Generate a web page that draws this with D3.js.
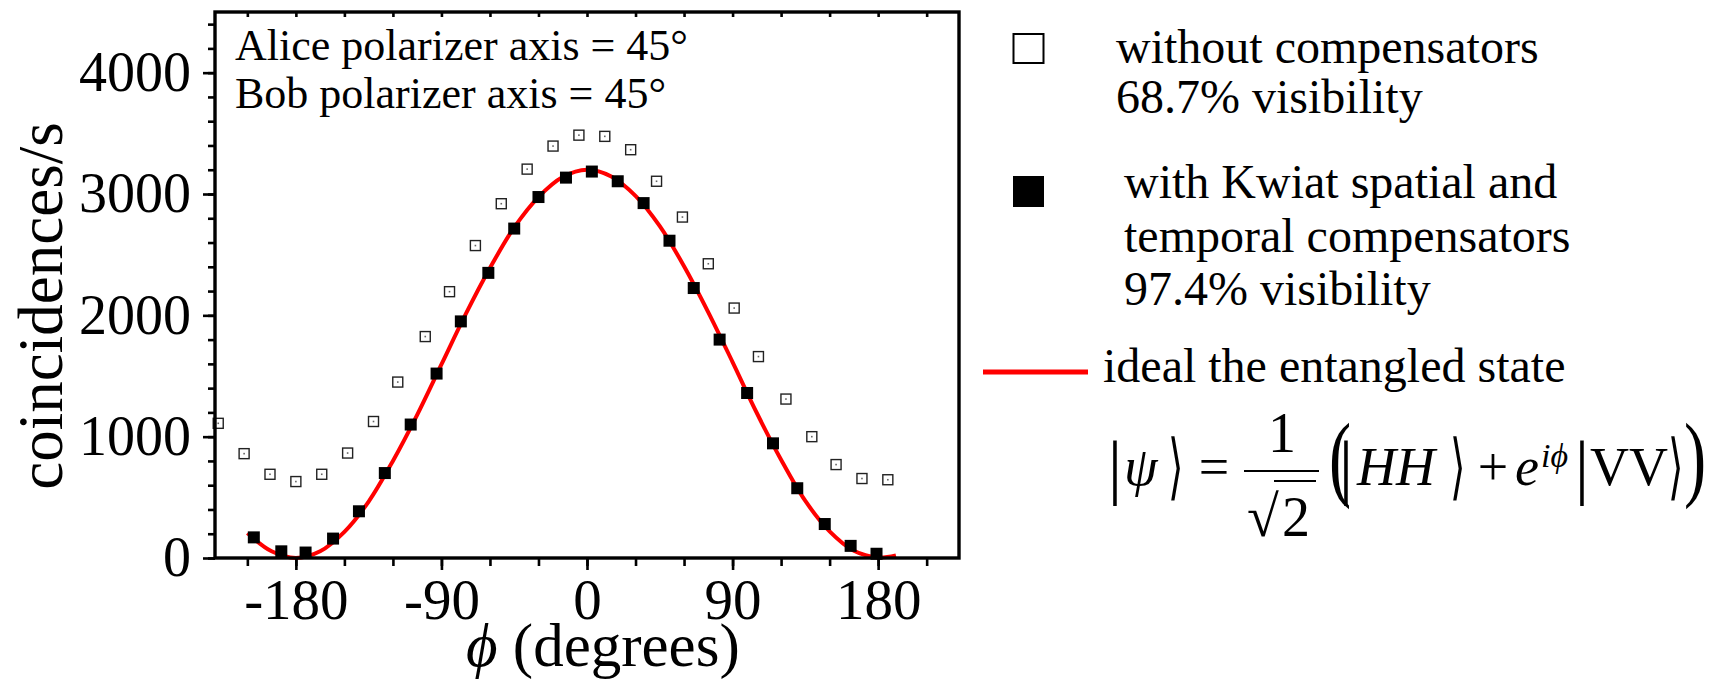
<!DOCTYPE html>
<html>
<head>
<meta charset="utf-8">
<script src="https://cdn.jsdelivr.net/npm/d3@7/dist/d3.min.js"></script>
<style>
  body { margin: 0; background: #fff; }
  text { font-family: "Liberation Serif", "Times New Roman", serif; fill: #000; }
</style>
</head>
<body>
<div id="chart"></div>
<script>
// phase (degrees) and coincidences/s
const phiOpen = [-228, -212, -196, -180, -164, -148, -132, -117, -100, -85, -69, -53, -37, -21, -5, 11, 27, 43, 59, 75, 91, 106, 123, 139, 154, 170, 186]
const countsOpen = [1110, 860, 690, 630, 690, 865, 1125, 1450, 1825, 2195, 2575, 2920, 3205, 3395, 3485, 3475, 3365, 3105, 2810, 2425, 2060, 1660, 1310, 1000, 770, 655, 645]

const phiFilled = [-206, -189, -174, -157, -141, -125, -109, -93, -78, -61, -45, -30, -13, 3, 19, 35, 51, 66, 82, 99, 115, 130, 147, 163, 179]
const countsFilled = [170, 55, 45, 160, 385, 700, 1100, 1520, 1950, 2350, 2715, 2975, 3135, 3185, 3105, 2925, 2615, 2225, 1800, 1360, 945, 575, 280, 100, 35]

const phiIdeal = [-210, -195, -180, -165, -150, -135, -120, -105, -90, -75, -60, -45, -30, -15, 0, 15, 30, 45, 60, 75, 90, 105, 120, 135, 150, 165, 180, 191]
const countsIdeal = [205, 55, 0, 55, 215, 465, 800, 1180, 1595, 2010, 2390, 2725, 2975, 3140, 3200, 3145, 2985, 2735, 2405, 2025, 1615, 1195, 810, 470, 220, 60, 5, 22]

const xLabelTicks = [-180, -90, 0, 90, 180]
const xMinorTicks = d3.range(-210, 211, 30)
const yLabelTicks = [0, 1000, 2000, 3000, 4000]
const yMinorTicks = d3.range(0, 4401, 200)

const legendOpen = ["without compensators", "68.7% visibility"]
const legendFilled = ["with Kwiat spatial and", "temporal compensators", "97.4% visibility"]
const legendLine = "ideal the entangled state"
const notes = ["Alice polarizer axis = 45°", "Bob polarizer axis = 45°"]

const width = 1713, height = 681
const plotLeft = 215, plotRight = 959, plotTop = 12, plotBottom = 558

const xScale = d3.scaleLinear().domain([-230, 230]).range([plotLeft, plotRight])
const yScale = d3.scaleLinear().domain([0, 4500]).range([plotBottom, plotTop])

const svg = d3.select("#chart")
  .append("svg")
    .attr("width", width)
    .attr("height", height)

svg.append("rect")
  .attr("width", width)
  .attr("height", height)
  .attr("fill", "#fff")

// open squares
const openG = svg.append("g")
phiOpen.forEach((p, i) => {
  const cx = xScale(p), cy = yScale(countsOpen[i])
  openG.append("rect")
    .attr("x", cx - 5).attr("y", cy - 5)
    .attr("width", 10).attr("height", 10)
    .attr("fill", "#fff")
    .attr("stroke", "#222")
    .attr("stroke-width", 1.4)
  openG.append("rect")
    .attr("x", cx - 0.8).attr("y", cy - 0.8)
    .attr("width", 1.6).attr("height", 1.6)
    .attr("fill", "#666")
})

// ideal curve
const line = d3.line()
  .x(d => xScale(d[0]))
  .y(d => yScale(d[1]))
  .curve(d3.curveCatmullRom)

svg.append("path")
  .datum(phiIdeal.map((p, i) => [p, countsIdeal[i]]))
  .attr("d", line)
  .attr("fill", "none")
  .attr("stroke", "#f00")
  .attr("stroke-width", 4)

// filled squares
svg.append("g").selectAll("rect")
  .data(phiFilled)
  .enter()
  .append("rect")
    .attr("x", d => xScale(d) - 6)
    .attr("y", (d, i) => yScale(countsFilled[i]) - 6)
    .attr("width", 12)
    .attr("height", 12)
    .attr("fill", "#000")

// axes
function styleAxis(g, size) {
  g.select(".domain").remove()
  g.selectAll("line").attr("stroke", "#000").attr("stroke-width", 2.6)
  g.attr("font-family", "Liberation Serif, Times New Roman, serif").attr("font-size", size)
  g.selectAll("text").attr("fill", "#000")
}

svg.append("g")
  .attr("transform", "translate(0," + plotBottom + ")")
  .call(d3.axisBottom(xScale).tickValues(xMinorTicks).tickSize(8).tickFormat(""))
  .call(g => styleAxis(g, 56))

svg.append("g")
  .attr("transform", "translate(0," + plotBottom + ")")
  .call(d3.axisBottom(xScale).tickValues(xLabelTicks).tickSize(12).tickPadding(9).tickFormat(d => String(d)))
  .call(g => styleAxis(g, 57))

svg.append("g")
  .attr("transform", "translate(0," + plotTop + ")")
  .call(d3.axisBottom(xScale).tickValues(xMinorTicks).tickSize(5).tickFormat(""))
  .call(g => styleAxis(g, 56))

svg.append("g")
  .attr("transform", "translate(" + plotLeft + ",0)")
  .call(d3.axisLeft(yScale).tickValues(yMinorTicks).tickSize(7).tickFormat(""))
  .call(g => styleAxis(g, 56))

svg.append("g")
  .attr("transform", "translate(" + plotLeft + ",0)")
  .call(d3.axisLeft(yScale).tickValues(yLabelTicks).tickSize(12).tickPadding(12).tickFormat(d => String(d)))
  .call(g => styleAxis(g, 56))

// frame
svg.append("rect")
  .attr("x", plotLeft).attr("y", plotTop)
  .attr("width", plotRight - plotLeft).attr("height", plotBottom - plotTop)
  .attr("fill", "none")
  .attr("stroke", "#000")
  .attr("stroke-width", 3.4)

// axis titles
svg.append("text")
  .attr("text-anchor", "middle")
  .attr("font-size", 63)
  .attr("transform", "translate(62,306)rotate(-90)")
  .text("coincidences/s")

const xTitle = svg.append("text")
  .attr("x", 466)
  .attr("y", 666)
  .attr("font-size", 61)
xTitle.append("tspan").attr("font-style", "italic").text("\u03d5")
xTitle.append("tspan").text(" (degrees)")

// polarizer notes
svg.append("g").selectAll("text")
  .data(notes)
  .enter()
  .append("text")
    .attr("x", 235)
    .attr("y", (d, i) => 60 + i * 48)
    .attr("font-size", 44)
    .text(d => d)

// legend
svg.append("rect")
  .attr("x", 1013.5).attr("y", 34)
  .attr("width", 30).attr("height", 29)
  .attr("fill", "#fff")
  .attr("stroke", "#000")
  .attr("stroke-width", 2)

svg.append("g").selectAll("text")
  .data(legendOpen)
  .enter()
  .append("text")
    .attr("x", 1116)
    .attr("y", (d, i) => 63 + i * 50)
    .attr("font-size", 48)
    .text(d => d)

svg.append("rect")
  .attr("x", 1013).attr("y", 176)
  .attr("width", 31).attr("height", 31)
  .attr("fill", "#000")

svg.append("g").selectAll("text")
  .data(legendFilled)
  .enter()
  .append("text")
    .attr("x", 1124)
    .attr("y", (d, i) => 198 + i * 53.5)
    .attr("font-size", 48)
    .text(d => d)

svg.append("line")
  .attr("x1", 983).attr("x2", 1088)
  .attr("y1", 372).attr("y2", 372)
  .attr("stroke", "#f00")
  .attr("stroke-width", 5)

svg.append("text")
  .attr("x", 1103)
  .attr("y", 382)
  .attr("font-size", 48)
  .text(legendLine)

// state formula
const eq = svg.append("g")
const base = 485
const bracketFont = "DejaVu Sans, DejaVu Serif, sans-serif"
function glyph(str, cx, y, size, italic, sx) {
  return eq.append("text")
    .attr("text-anchor", "middle")
    .attr("font-size", size)
    .attr("font-style", italic ? "italic" : "normal")
    .attr("transform", "translate(" + cx + "," + y + ")scale(" + (sx || 1) + ",1)")
    .text(str)
}
function word(str, x, y, size, italic) {
  return eq.append("text")
    .attr("x", x).attr("y", y)
    .attr("font-size", size)
    .attr("font-style", italic ? "italic" : "normal")
    .text(str)
}
glyph("|", 1115, 491, 72, false)
word("\u03c8", 1124, base, 54, true)
glyph("\u27e9", 1176, 491, 72, false, 0.55).attr("font-family", bracketFont)
glyph("=", 1214, base, 54, false)
glyph("1", 1282, 452, 56, false)
eq.append("line")
  .attr("x1", 1244).attr("x2", 1319)
  .attr("y1", 471).attr("y2", 471)
  .attr("stroke", "#000").attr("stroke-width", 2)
glyph("\u221a", 1263, 536, 58, false)
eq.append("line")
  .attr("x1", 1274).attr("x2", 1316)
  .attr("y1", 481).attr("y2", 481)
  .attr("stroke", "#000").attr("stroke-width", 2)
glyph("2", 1296, 536, 56, false)
glyph("(", 1340, 489, 95, false, 0.7)
glyph("|", 1346, 491, 72, false)
word("HH", 1357, base, 54, true)
glyph("\u27e9", 1458, 491, 72, false, 0.55).attr("font-family", bracketFont)
glyph("+", 1493, base, 54, false)
word("e", 1515, base, 54, true)
word("i\u03d5", 1541, 467, 34, true)
glyph("|", 1582, 491, 72, false)
word("VV", 1590, base, 54, false)
glyph("\u27e9", 1676, 491, 72, false, 0.55).attr("font-family", bracketFont)
glyph(")", 1695, 489, 95, false, 0.7)
</script>
</body>
</html>
